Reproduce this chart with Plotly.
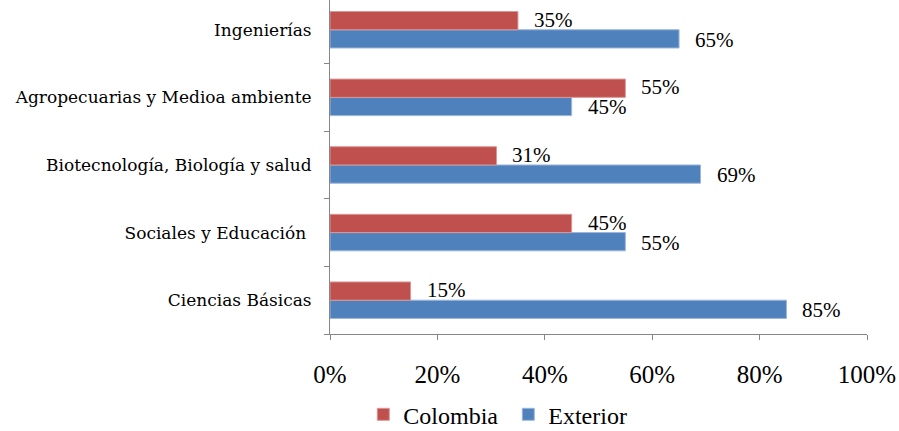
import plotly.graph_objects as go

categories = ["Ciencias Básicas", "Sociales y Educación ", "Biotecnología, Biología y salud",
              "Agropecuarias y Medioa ambiente", "Ingenierías"]
colombia = [15, 45, 31, 55, 35]
exterior = [85, 55, 69, 45, 65]
tick_vals = [0, 20, 40, 60, 80, 100]
tick_text = ["0%", "20%", "40%", "60%", "80%", "100%"]

FONT = "Liberation Serif"
CAT_FONT = "DejaVu Serif"
RED = "#C0504D"
BLUE = "#4F81BD"

fig = go.Figure()
fig.add_trace(go.Bar(y=categories, x=exterior, orientation="h", name="Exterior",
                     marker=dict(color=BLUE, line=dict(color="#9DB6D8", width=1))))
fig.add_trace(go.Bar(y=categories, x=colombia, orientation="h", name="Colombia",
                     marker=dict(color=RED, line=dict(color="#D99694", width=1))))

annotations = []
for c, v in zip(categories, colombia):
    annotations.append(dict(x=v, y=c, text=f"{v}%", showarrow=False, xanchor="left",
                            xshift=14, yshift=10, font=dict(family=FONT, size=21, color="black")))
for c, v in zip(categories, exterior):
    annotations.append(dict(x=v, y=c, text=f"{v}%", showarrow=False, xanchor="left",
                            xshift=14, yshift=-10, font=dict(family=FONT, size=21, color="black")))

fig.update_layout(
    width=899, height=431,
    margin=dict(l=330, r=32, t=0, b=97),
    paper_bgcolor="white", plot_bgcolor="white",
    barmode="group", bargap=0.46, bargroupgap=0,
    font=dict(family=FONT, color="black"),
    annotations=annotations,
    showlegend=True,
    legend=dict(orientation="h", traceorder="reversed", x=0.062, xanchor="left",
                yref="container", y=0.09, yanchor="top",
                font=dict(family="Liberation Serif, serif", size=24, color="black"),
                itemwidth=30, entrywidth=100),
    xaxis=dict(range=[0, 100], tickvals=tick_vals, ticktext=tick_text, automargin=False,
               showgrid=False, zeroline=False, showline=True, linecolor="#868686",
               ticks="outside", ticklen=5, tickcolor="#868686",
               tickfont=dict(family=FONT, size=25), ticklabelstandoff=13),
    yaxis=dict(type="category", categoryorder="array", categoryarray=categories,
               automargin=False,
               range=[-0.5, 4.44], showgrid=False, zeroline=False,
               showline=True, linecolor="#868686", ticks="outside", ticklen=5,
               tickcolor="#868686", tickson="boundaries",
               tickfont=dict(family=CAT_FONT, size=17), ticklabelstandoff=14),
)

fig.write_html("out.html", config={"displayModeBar": False},
               post_script="document.body.style.margin='0';")
